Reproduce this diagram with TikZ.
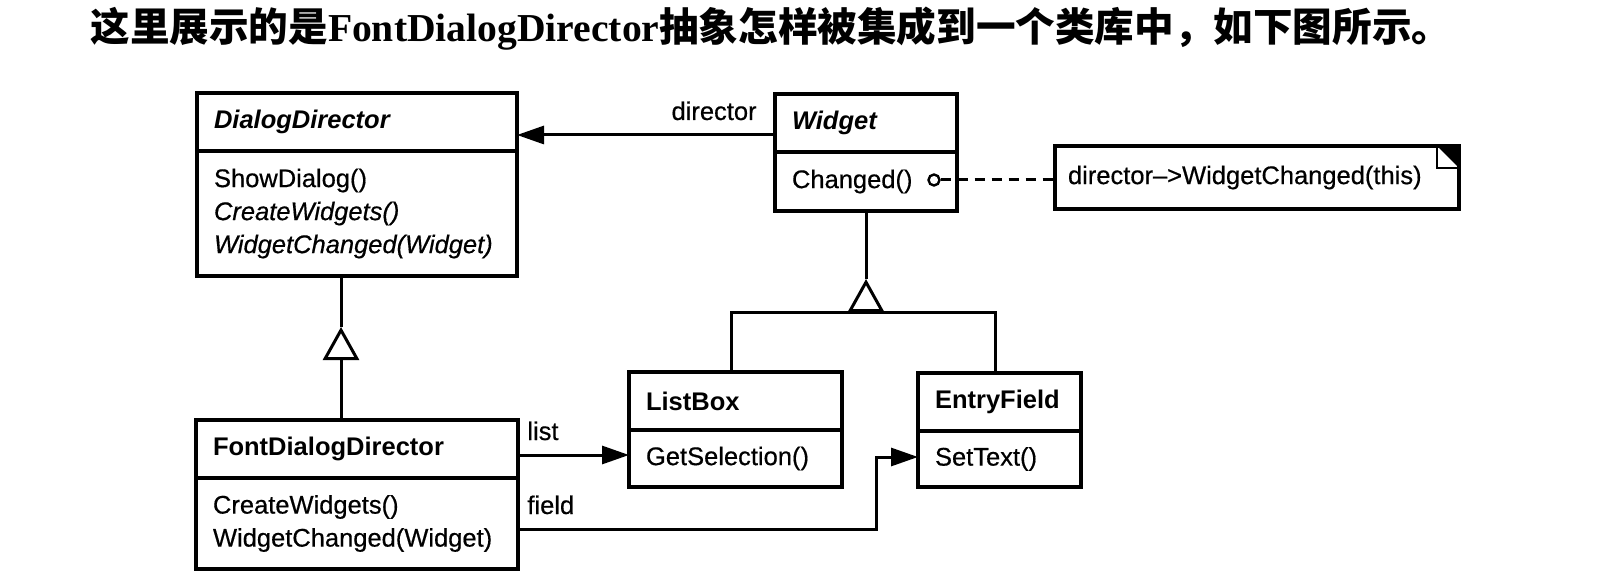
\documentclass[tikz,border=0pt]{standalone}
\usepackage{fontspec}
\setsansfont{Liberation Sans}[UprightFeatures={FakeBold=0.5}, ItalicFeatures={FakeBold=0.5}]
\newfontfamily\cjk{Noto Sans CJK SC}
\newfontfamily\titleserif{Liberation Serif}
\usetikzlibrary{arrows.meta, positioning}

\newcommand{\umlsize}{\fontsize{12.75}{16.5}\selectfont}

\begin{document}
\begin{tikzpicture}[
    x=0.5pt, y=-0.5pt,
    classname/.style={draw, line width=1.6pt, outer sep=0pt, anchor=north west,
      inner xsep=8.5pt, inner ysep=0pt, align=left, minimum height=29pt,
      font=\sffamily\umlsize\bfseries},
    methods/.style={draw, line width=1.6pt, outer sep=0pt, inner xsep=8.5pt,
      inner ysep=0pt, align=left, font=\sffamily\umlsize},
    note/.style={draw, line width=1.6pt, outer sep=0pt, anchor=north west,
      inner xsep=6.5pt, inner ysep=0pt, align=left, font=\sffamily\umlsize},
    link/.style={line width=1.5pt},
    assoc/.style={link, -{Triangle[length=13.5pt, width=9pt]}},
    inherit/.style={link, -{Triangle[open, length=16.5pt, width=18pt]}},
    lbl/.style={font=\sffamily\umlsize, inner sep=0pt}
]
\useasboundingbox[fill=white] (0,0) rectangle (1600,588);

% Heading
\node[anchor=base west, inner sep=0pt, font=\fontsize{19.8}{24}\selectfont]
  (heading) at (90,42)
  {\cjk\bfseries 这里展示的是{\titleserif\bfseries FontDialogDirector}抽象怎样被集成到一个类库中，如下图所示。};

% Classes
\node[classname, text width=143pt] (ddt) at (197,93) {\itshape DialogDirector};
\node[methods, below=0pt of ddt, text width=143pt, minimum height=62.5pt] (ddm)
  {ShowDialog()\\ \textit{CreateWidgets()}\\ \textit{WidgetChanged(Widget)}};

\node[classname, text width=74pt] (wt) at (775,94) {\itshape Widget};
\node[methods, below=0pt of wt, text width=74pt, minimum height=29.5pt] (wm) {Changed()};

\node[classname, text width=89.5pt] (lbt) at (629,372) {ListBox};
\node[methods, below=0pt of lbt, text width=89.5pt, minimum height=28.5pt] (lbm) {GetSelection()};

\node[classname, text width=64.5pt] (eft) at (918,373) {EntryField};
\node[methods, below=0pt of eft, text width=64.5pt, minimum height=28pt] (efm) {SetText()};

\node[classname, text width=144pt] (fddt) at (196,420) {FontDialogDirector};
\node[methods, below=0pt of fddt, text width=144pt, minimum height=45.5pt] (fddm)
  {CreateWidgets()\\ WidgetChanged(Widget)};

% Note
\node[note, text width=189pt, minimum height=31.5pt] (code) at (1055,146)
  {director\textendash{}>WidgetChanged(this)};
\fill (code.north east) -- ++(-22,0) -- ++(22,22) -- cycle;
\draw[line width=0.9pt] ([xshift=-11pt]code.north east) -- ++(0,22) -- ++(22,0);
\node[circle, draw, line width=1.2pt, minimum size=5.5pt, inner sep=0pt, fill=white]
  (hook) at ([xshift=-11.5pt, yshift=0.75pt]wm.east) {};
\draw[link, dash pattern=on 5pt off 3.5pt] (hook.east) -- (hook.east -| code.west);

% Inheritance
\coordinate (tri1) at (341,327);
\coordinate (tri2) at (866,279);
\coordinate (bar) at (866,312);
\draw[link] (tri1) -- (tri1 |- ddm.south);
\draw[inherit] (tri1 |- fddt.north) -- (tri1);
\draw[link] (tri2) -- (wm.south);
\draw[link] ([xshift=-2pt]lbt.north) |- (bar) -| ([xshift=-2pt]eft.north);
\draw[inherit] (bar) -- (tri2);

% Associations
\draw[assoc] ([yshift=-6pt]wt.west) -- ([yshift=-6pt]wt.west -| ddt.east);
\draw[assoc] ([yshift=-3pt]fddt.east) -- ([yshift=-3pt]fddt.east -| lbm.west);
\coordinate (fturn) at (876,457);
\draw[assoc] ([yshift=-3pt]fddm.east) -| (fturn) -- (fturn -| efm.west);

% Labels
\node[lbl, anchor=base east] (dirlbl) at (757,120) {director};
\node[lbl, anchor=base west] (listlbl) at (527,440) {list};
\node[lbl, anchor=base west] (fieldlbl) at (527,514) {field};

\end{tikzpicture}
\end{document}
